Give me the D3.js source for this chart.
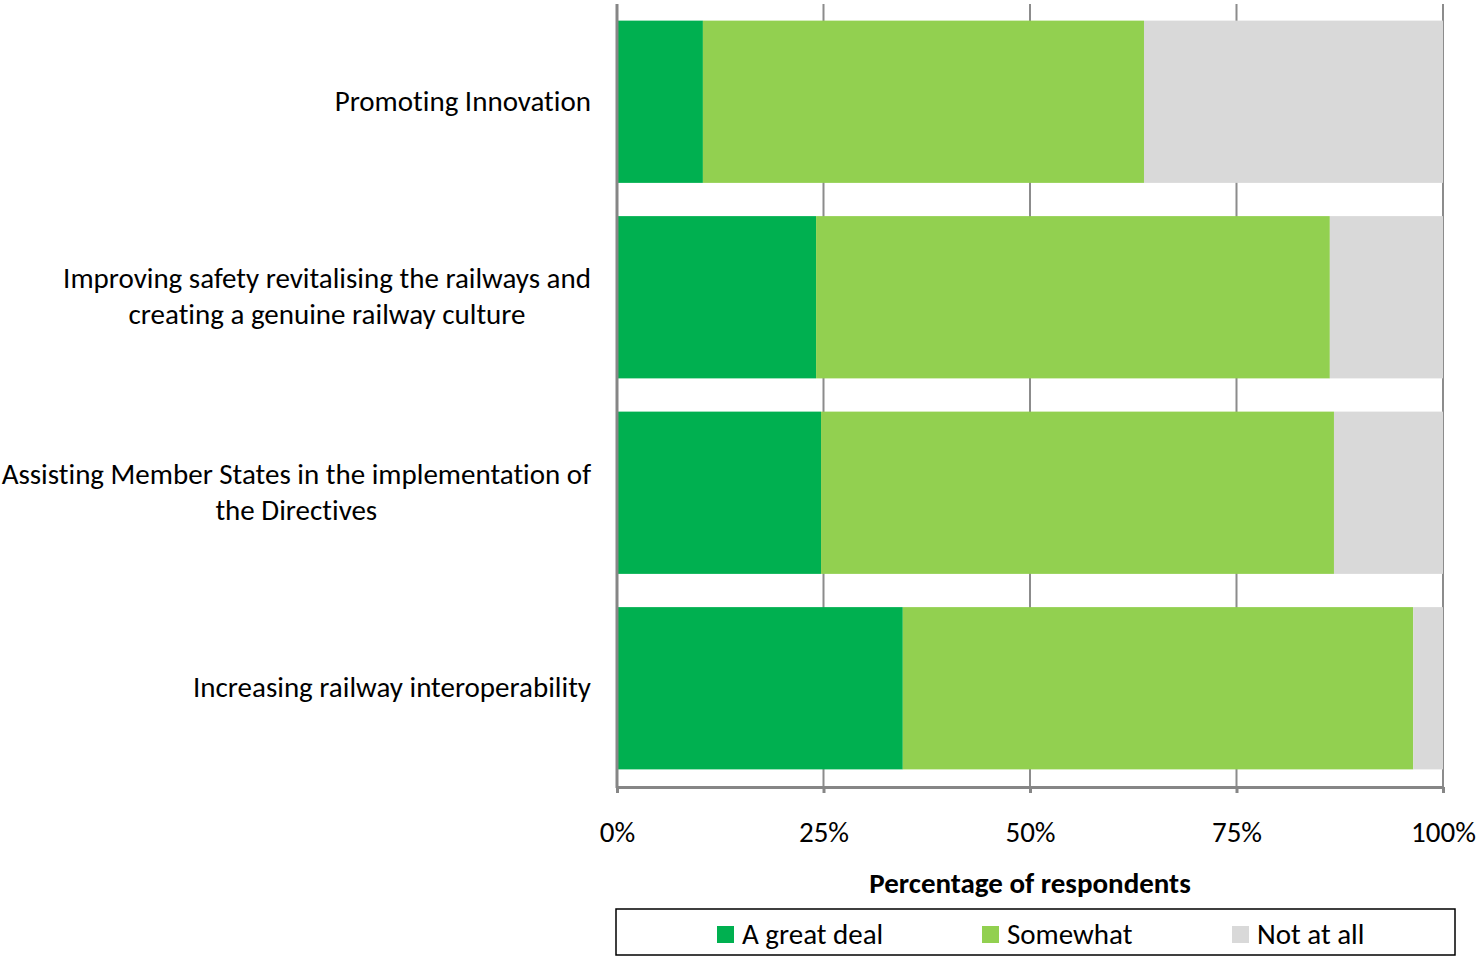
<!DOCTYPE html>
<html><head><meta charset="utf-8">
<script src="https://cdn.jsdelivr.net/npm/d3@7"></script>
<style>
html,body{margin:0;padding:0;background:#fff;}
svg text{font-family:Carlito, Lato, "Open Sans", sans-serif;fill:#000;font-variant-ligatures:none;font-feature-settings:"liga" 0;}
</style></head>
<body><svg id="c" width="1479" height="957"></svg>
<script>
const categories = [
  ["Promoting Innovation"],
  ["Improving safety revitalising the railways and", "creating a genuine railway culture"],
  ["Assisting Member States in the implementation of", "the Directives"],
  ["Increasing railway interoperability"]
];
const seriesNames = ["A great deal", "Somewhat", "Not at all"];
const greatDeal = [10.4, 24.1, 24.7, 34.6];
const somewhat  = [53.4, 62.2, 62.1, 61.8];
const notAtAll  = [36.2, 13.7, 13.2, 3.6];
const tickValues = [0, 25, 50, 75, 100];
const tickLabels = ["0%", "25%", "50%", "75%", "100%"];
const axisTitle = "Percentage of respondents";
const colors = ["#00B050", "#92D050", "#D9D9D9"];

const FONT = "Carlito, Lato, 'Open Sans', sans-serif";
const FS = 29;
const svg = d3.select("#c");
const x = d3.scaleLinear().domain([0, 100]).range([617, 1443]);
const y = d3.scaleBand().domain(d3.range(categories.length)).range([4, 786])
  .paddingInner(0.17).paddingOuter(0.085);

// gridlines
svg.append("g").selectAll("line").data(tickValues.filter(v => v > 0)).join("line")
  .attr("x1", d => x(d)).attr("x2", d => x(d)).attr("y1", 4).attr("y2", 787)
  .attr("stroke", "#8c8c8c").attr("stroke-width", 2);

// stacked bars
const stackData = categories.map((c, i) => ({i, a: greatDeal[i], b: somewhat[i], c: notAtAll[i]}));
const stack = d3.stack().keys(["a", "b", "c"])(stackData);
svg.append("g").selectAll("g").data(stack).join("g")
  .attr("fill", (d, k) => colors[k])
  .selectAll("rect").data(d => d).join("rect")
  .attr("x", d => x(d[0])).attr("width", d => x(d[1]) - x(d[0]))
  .attr("y", d => y(d.data.i)).attr("height", y.bandwidth());

// left axis line
svg.append("line").attr("x1", 617).attr("x2", 617).attr("y1", 4).attr("y2", 788)
  .attr("stroke", "#868686").attr("stroke-width", 3);

// bottom axis
const xAxis = d3.axisBottom(x).tickValues(tickValues).tickFormat((d, i) => tickLabels[i])
  .tickSize(6).tickSizeOuter(0).tickPadding(28);
const ax = svg.append("g").attr("transform", "translate(0,787)").call(xAxis);
ax.select(".domain").attr("stroke", "#868686").attr("stroke-width", 3);
ax.selectAll(".tick line").attr("stroke", "#868686").attr("stroke-width", 3);
ax.selectAll(".tick text").attr("font-size", FS).attr("font-family", FONT).attr("fill", "#000");

// axis title
svg.append("text").attr("x", x(50)).attr("y", 893).attr("text-anchor", "middle")
  .attr("font-size", FS).attr("font-weight", "bold").text(axisTitle);

// category labels
const labG = svg.append("g");
categories.forEach((lines, i) => {
  const cy = y(i) + y.bandwidth() / 2;
  const lh = 36;
  const t = labG.append("text").attr("font-size", FS);
  const n = lines.length;
  lines.forEach((ln, j) => {
    t.append("tspan").attr("y", cy + (j - (n - 1) / 2) * lh + 9).text(ln);
  });
  const tsp = t.selectAll("tspan").nodes();
  const maxW = d3.max(tsp.map(s => s.getComputedTextLength()));
  const right = 591;
  tsp.forEach(s => d3.select(s).attr("x", right - maxW / 2).attr("text-anchor", "middle"));
});

// legend
svg.append("rect").attr("x", 616).attr("y", 909).attr("width", 839).attr("height", 46)
  .attr("fill", "#fff").attr("stroke", "#000").attr("stroke-width", 1.5);
const legX = [717, 982, 1232];
seriesNames.forEach((s, k) => {
  svg.append("rect").attr("x", legX[k]).attr("y", 926).attr("width", 17).attr("height", 17).attr("fill", colors[k]);
  svg.append("text").attr("x", legX[k] + 25).attr("y", 944).attr("font-size", FS).text(s);
});
</script></body></html>
